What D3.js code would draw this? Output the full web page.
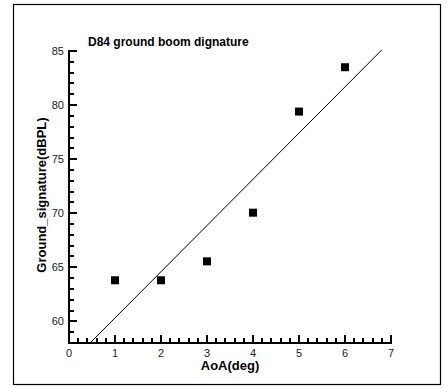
<!DOCTYPE html>
<html><head><meta charset="utf-8">
<script src="https://cdn.jsdelivr.net/npm/d3@7"></script>
<style>body{margin:0;background:#fff}svg{display:block}text{font-family:"Liberation Sans",Arial,sans-serif}</style>
</head><body>
<script>
const aoa = [1, 2, 3, 4, 5, 6];
const signature = [63.8, 63.8, 65.55, 70.05, 79.4, 83.5];
const fitX = [0.457, 6.8];
const fitY = [58, 85.1];
const xTicks = [0, 1, 2, 3, 4, 5, 6, 7];
const yTicks = [60, 65, 70, 75, 80, 85];
const xMinorTicks = [0.2, 0.4, 0.6, 0.8, 1.2, 1.4, 1.6, 1.8, 2.2, 2.4, 2.6, 2.8, 3.2, 3.4, 3.6, 3.8,
  4.2, 4.4, 4.6, 4.8, 5.2, 5.4, 5.6, 5.8, 6.2, 6.4, 6.6, 6.8];
const yMinorTicks = [59, 61, 62, 63, 64, 66, 67, 68, 69, 71, 72, 73, 74, 76, 77, 78, 79, 81, 82, 83, 84];
const titleText = "D84 ground boom dignature";
const xTitle = "AoA(deg)";
const yTitle = "Ground_signature(dBPL)";

const W = 448, H = 388;
const svg = d3.select("body").append("svg").attr("width", W).attr("height", H);
svg.append("rect").attr("x", 13.5).attr("y", 4.5).attr("width", 427).attr("height", 380)
  .attr("fill", "none").attr("stroke", "#000").attr("stroke-width", 1.2);

const x = d3.scaleLinear().domain([0, 7]).range([69, 391]);
const y = d3.scaleLinear().domain([58, 85]).range([343, 51]);

const x0 = Math.round(x(0)), yb = Math.round(y(58));
const tickG = svg.append("g").attr("fill", "#000");
function addTicks(cls, data, vertical, len) {
  tickG.selectAll("rect." + cls).data(data).enter().append("rect").attr("class", cls)
    .attr("x", d => vertical ? Math.round(x(d)) - 1 : x0)
    .attr("y", d => vertical ? yb - len : Math.round(y(d)) - 1)
    .attr("width", vertical ? 2 : len)
    .attr("height", vertical ? len : 2);
}
addTicks("xmaj", xTicks, true, 8);
addTicks("xmin", xMinorTicks, true, 5);
addTicks("ymaj", yTicks, false, 8);
addTicks("ymin", yMinorTicks, false, 5);
// axis lines
tickG.append("rect").attr("x", x0 - 1).attr("y", yb - 1).attr("width", Math.round(x(7)) - x0 + 2).attr("height", 2);
tickG.append("rect").attr("x", x0 - 1).attr("y", Math.round(y(85)) - 1).attr("width", 2).attr("height", yb - Math.round(y(85)) + 2);

// tick labels
svg.selectAll("text.xl").data(xTicks).enter().append("text").attr("class", "xl")
  .attr("x", d => x(d)).attr("y", yb + 14).attr("text-anchor", "middle")
  .attr("font-size", 11).attr("fill", "#222").text(d => d);
svg.selectAll("text.yl").data(yTicks).enter().append("text").attr("class", "yl")
  .attr("x", x0 - 5).attr("y", d => y(d) + 3.5).attr("text-anchor", "end")
  .attr("font-size", 11).attr("fill", "#222").text(d => d);

// fit line
const line = d3.line().x(d => x(d[0])).y(d => y(d[1]));
svg.append("path").datum(d3.zip(fitX, fitY)).attr("d", line)
  .attr("fill", "none").attr("stroke", "#000").attr("stroke-width", 1);

// points
svg.selectAll("rect.pt").data(d3.zip(aoa, signature)).enter().append("rect")
  .attr("class", "pt")
  .attr("x", d => x(d[0]) - 4).attr("y", d => y(d[1]) - 4)
  .attr("width", 8).attr("height", 8).attr("fill", "#000");

svg.append("text").attr("x", 88).attr("y", 46).attr("font-size", 12).attr("font-weight", "bold")
  .text(titleText);
svg.append("text").attr("x", 230).attr("y", 370).attr("text-anchor", "middle")
  .attr("font-size", 13).attr("font-weight", "bold").text(xTitle);
svg.append("text").attr("transform", "translate(46,195) rotate(-90)").attr("text-anchor", "middle")
  .attr("font-size", 13).attr("font-weight", "bold").text(yTitle);
</script>
</body></html>
